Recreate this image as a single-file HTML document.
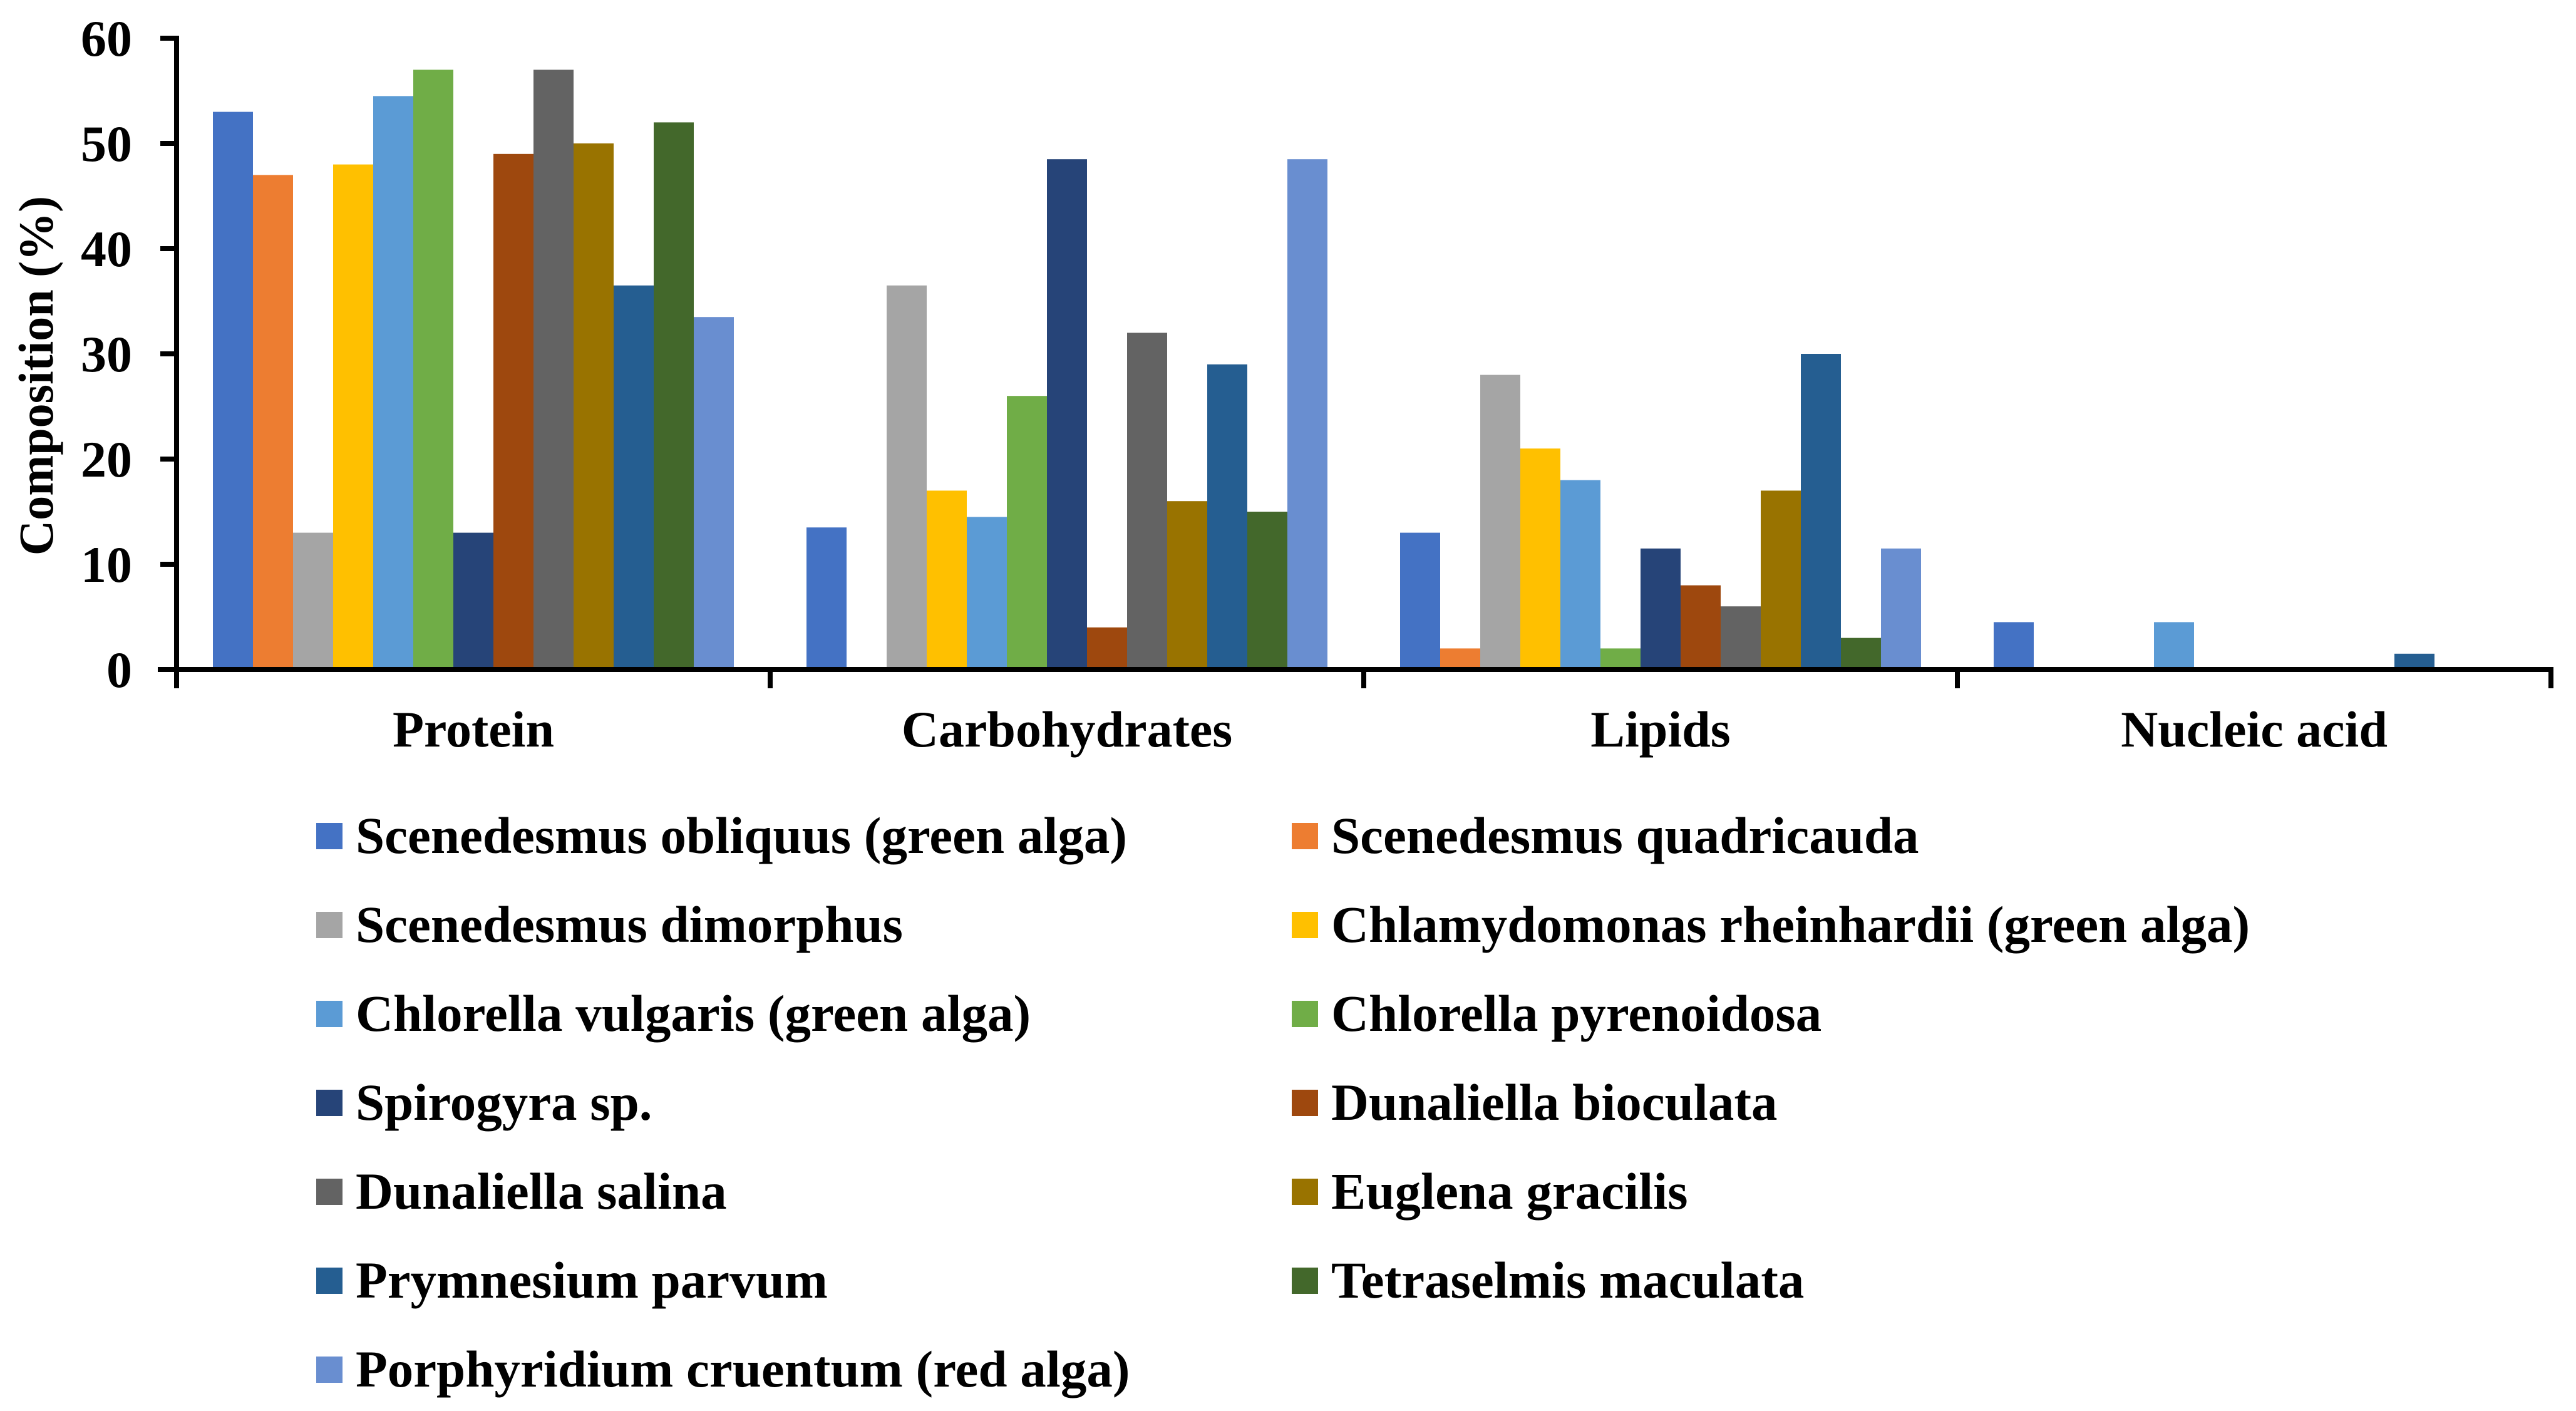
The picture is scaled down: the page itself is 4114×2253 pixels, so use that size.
<!DOCTYPE html>
<html><head><meta charset="utf-8"><style>
html,body{margin:0;padding:0;background:#fff;}
svg{display:block;font-family:"Liberation Serif",serif;font-weight:bold;}
</style></head><body>
<svg id="chart" width="4114" height="2253" viewBox="0 0 4114 2253" xmlns="http://www.w3.org/2000/svg">
<rect width="4114" height="2253" fill="#fff"/>
<g id="bars"></g>
<g id="axes"></g>
<g id="legend"></g>
<text transform="translate(84,600) rotate(-90)" text-anchor="middle" font-size="78">Composition (%)</text>
</svg>
<script>
const categories = ["Protein","Carbohydrates","Lipids","Nucleic acid"];
const seriesNames = ["Scenedesmus obliquus (green alga)","Scenedesmus quadricauda","Scenedesmus dimorphus","Chlamydomonas rheinhardii (green alga)","Chlorella vulgaris (green alga)","Chlorella pyrenoidosa","Spirogyra sp.","Dunaliella bioculata","Dunaliella salina","Euglena gracilis","Prymnesium parvum","Tetraselmis maculata","Porphyridium cruentum (red alga)"];
const colors = ["#4472C4","#ED7D31","#A5A5A5","#FFC000","#5B9BD5","#70AD47","#264478","#9E480E","#636363","#997300","#255E91","#43682B","#698ED0"];
const proteinValues = [53,47,13,48,54.5,57,13,49,57,50,36.5,52,33.5];
const carbohydrateValues = [13.5,0,36.5,17,14.5,26,48.5,4,32,16,29,15,48.5];
const lipidValues = [13,2,28,21,18,2,11.5,8,6,17,30,3,11.5];
const nucleicValues = [4.5,0,0,0,4.5,0,0,0,0,0,1.5,0,0];
const yTicks = [0,10,20,30,40,50,60];

const NS="http://www.w3.org/2000/svg";
const x0=282, catW=948, y0=1069, yTop=61, yMax=60, barW=64, pad=58;
const yScale=v=>y0-(v/yMax)*(y0-yTop);
const xBar=(c,s)=>x0+c*catW+pad+s*barW;
function mk(tag,attrs,parent){const e=document.createElementNS(NS,tag);for(const k in attrs)e.setAttribute(k,attrs[k]);parent.appendChild(e);return e;}
const bars=document.getElementById('bars'), axes=document.getElementById('axes'), legend=document.getElementById('legend');
const data=[proteinValues,carbohydrateValues,lipidValues,nucleicValues];
data.forEach((vals,c)=>{vals.forEach((v,s)=>{
  if(v<=0)return;
  const r=mk('rect',{x:xBar(c,s),y:yScale(v),width:barW,height:y0-yScale(v),fill:colors[s]},bars);
  
  
});});
let l=mk('line',{x1:x0,y1:yTop-4,x2:x0,y2:y0+30,stroke:'#000','stroke-width':8},axes);


yTicks.forEach(t=>{
  const y=yScale(t);
  const tk=mk('line',{x1:x0-26,y1:y,x2:x0,y2:y,stroke:'#000','stroke-width':8},axes);
  
  
  const tx=mk('text',{x:211,y:y+28,'text-anchor':'end','font-size':82},axes);
  tx.textContent=t;
  
  
});
l=mk('line',{x1:x0-30,y1:y0,x2:x0+categories.length*catW+4,y2:y0,stroke:'#000','stroke-width':8},axes);


for(let i=0;i<=categories.length;i++){
  const tk=mk('line',{x1:x0+i*catW,y1:y0,x2:x0+i*catW,y2:y0+30,stroke:'#000','stroke-width':8},axes);
  
  
}
categories.forEach((c,i)=>{
  const tx=mk('text',{x:x0+i*catW+catW/2,y:1192,'text-anchor':'middle','font-size':82},axes);
  tx.textContent=c;
  
  
});
seriesNames.forEach((n,i)=>{
  const col=i%2,row=Math.floor(i/2);
  const mx=col?2063:505, cy=1335+row*142;
  const g=mk('g',{},legend);
  
  
  mk('rect',{x:mx,y:cy-21,width:42,height:42,fill:colors[i]},g);
  const tx=mk('text',{x:mx+63,y:cy+27,'font-size':83},g);
  tx.textContent=n;
});
</script>
</body></html>
